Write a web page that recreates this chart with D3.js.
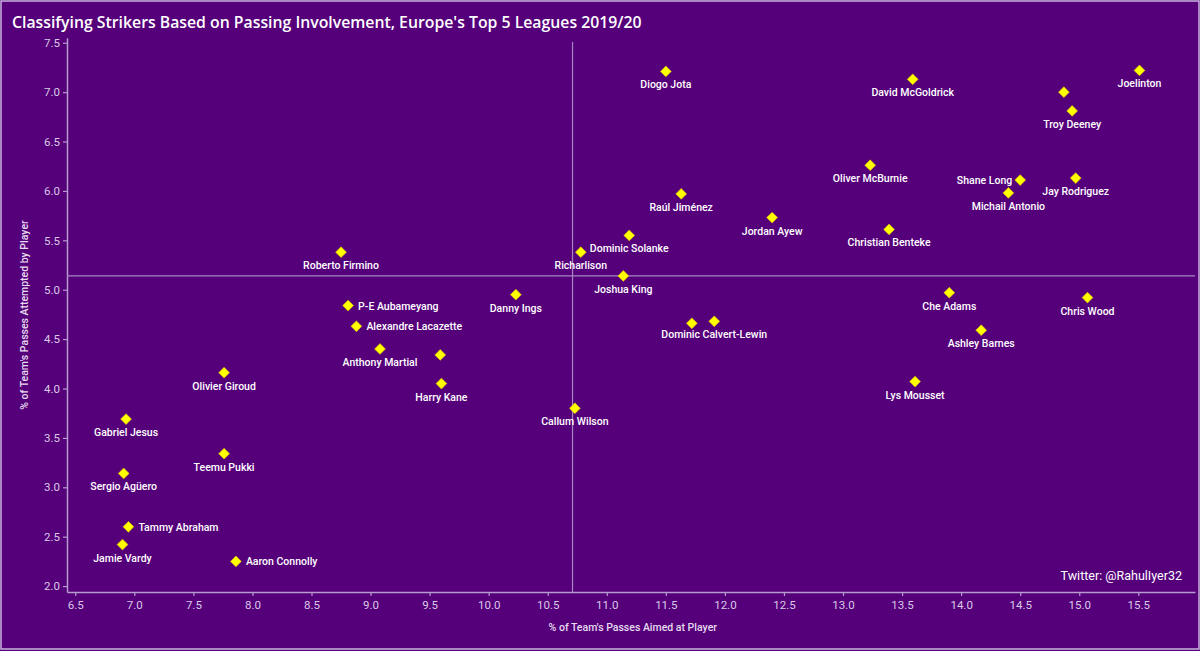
<!DOCTYPE html>
<html><head><meta charset="utf-8">
<script src="https://cdn.jsdelivr.net/npm/d3@7"></script>
<style>
html,body{margin:0;padding:0;background:#55007a;}
svg{display:block;}
</style></head>
<body>
<svg id="chart" width="1200" height="651"></svg>
<script>
const players = ["Diogo Jota","David McGoldrick","Joelinton","","Troy Deeney","Oliver McBurnie","Shane Long","Jay Rodriguez","Michail Antonio","Raúl Jiménez","Jordan Ayew","Christian Benteke","Dominic Solanke","Richarlison","Roberto Firmino","Joshua King","Danny Ings","P-E Aubameyang","Alexandre Lacazette","Anthony Martial","","Harry Kane","Callum Wilson","","Dominic Calvert-Lewin","Che Adams","Chris Wood","Ashley Barnes","Lys Mousset","Olivier Giroud","Gabriel Jesus","Teemu Pukki","Sergio Agüero","Tammy Abraham","Jamie Vardy","Aaron Connolly"];
const passesAimed = [11.50,13.59,15.51,14.87,14.94,13.23,14.50,14.97,14.40,11.63,12.40,13.39,11.19,10.78,8.75,11.14,10.23,8.81,8.88,9.08,9.59,9.60,10.73,11.72,11.91,13.90,15.07,14.17,13.61,7.76,6.93,7.76,6.91,6.95,6.90,7.86];
const passesAttempted = [7.21,7.13,7.22,7.00,6.81,6.26,6.11,6.13,5.98,5.97,5.73,5.61,5.55,5.38,5.38,5.14,4.95,4.84,4.63,4.40,4.34,4.05,3.80,4.66,4.68,4.97,4.92,4.59,4.07,4.16,3.69,3.34,3.14,2.60,2.42,2.25];
const labelSide = ["below","below","below","none","below","below","left","below","below","below","below","below","below","below","below","below","below","right","right","below","none","below","below","none","below","below","below","below","below","below","below","below","below","right","below","right"];
const xTicks = [6.5,7.0,7.5,8.0,8.5,9.0,9.5,10.0,10.5,11.0,11.5,12.0,12.5,13.0,13.5,14.0,14.5,15.0,15.5];
const yTicks = [2.0,2.5,3.0,3.5,4.0,4.5,5.0,5.5,6.0,6.5,7.0,7.5];
const refX = 10.71, refY = 5.14;

const svg = d3.select("#chart");
const W = 1200, H = 651;
const bg = "#55007a", axisCol = "#b79bd0", tickTxt = "#d9c9e8";

svg.append("rect").attr("x",0).attr("y",0).attr("width",W).attr("height",H).attr("fill",bg);
svg.append("rect").attr("x",1).attr("y",1).attr("width",W-2).attr("height",H-3)
  .attr("fill","none").attr("stroke","#c8b4dc").attr("stroke-width",1.5);

svg.append("text").attr("x",12).attr("y",28).text("Classifying Strikers Based on Passing Involvement, Europe's Top 5 Leagues 2019/20")
  .attr("fill","#ffffff").attr("font-family","'Open Sans', 'Noto Sans', sans-serif").attr("font-weight",600).attr("font-size",15.8);

const x = d3.scaleLinear().domain([6.43,15.98]).range([67,1195]);
const y = d3.scaleLinear().domain([1.94,7.55]).range([592,37.8]);

const font = "Roboto, 'Noto Sans', sans-serif";

// axes
const gx = svg.append("g").attr("transform","translate(0,592)")
  .call(d3.axisBottom(x).tickValues(xTicks).tickFormat(d3.format(".1f")).tickSize(4).tickSizeOuter(0));
const gy = svg.append("g").attr("transform","translate(67,0)")
  .call(d3.axisLeft(y).tickValues(yTicks).tickFormat(d3.format(".1f")).tickSize(4).tickSizeOuter(0));
[gx,gy].forEach(g=>{
  g.select(".domain").attr("stroke",axisCol).attr("stroke-width",1.5);
  g.selectAll(".tick line").attr("stroke",axisCol).attr("stroke-width",1.2);
  g.selectAll(".tick text").attr("fill",tickTxt).attr("font-family",font).attr("font-size",11.5);
});
gx.selectAll(".tick text").attr("dy","0.9em");

// reference lines
svg.append("line").attr("x1",x(refX)).attr("x2",x(refX)).attr("y1",42).attr("y2",592)
  .attr("stroke","#a886c4").attr("stroke-width",1.2);
svg.append("line").attr("x1",67).attr("x2",1195).attr("y1",y(refY)).attr("y2",y(refY))
  .attr("stroke","#a886c4").attr("stroke-width",1.2);

// axis titles
svg.append("text").attr("x",x(11.0)+26).attr("y",631).attr("text-anchor","middle")
  .text("% of Team's Passes Aimed at Player").attr("fill","#e6dcef").attr("font-family",font).attr("font-size",10.5).attr("font-weight",500);
svg.append("text").attr("transform","translate(28,315) rotate(-90)").attr("text-anchor","middle")
  .text("% of Team's Passes Attempted by Player").attr("fill","#e6dcef").attr("font-family",font).attr("font-size",10.5).attr("font-weight",500);

// points
const data = players.map((n,i)=>({name:n,x:passesAimed[i],y:passesAttempted[i],side:labelSide[i]}));
const diamond = d3.symbol().type(d3.symbolSquare).size(58);
svg.append("g").selectAll("path").data(data).join("path")
  .attr("d",diamond)
  .attr("transform",d=>`translate(${x(d.x)},${y(d.y)}) rotate(45)`)
  .attr("fill","#ffff00").attr("stroke","#e8c800").attr("stroke-width",0.6);

const lab = svg.append("g").attr("font-family",font).attr("font-size",10.5).attr("font-weight",500).attr("fill","#ffffff");
data.filter(d=>d.side!=="none").forEach(d=>{
  const t = lab.append("text").text(d.name);
  if(d.side==="below"){ t.attr("x",x(d.x)).attr("y",y(d.y)+17).attr("text-anchor","middle"); }
  else if(d.side==="right"){ t.attr("x",x(d.x)+10).attr("y",y(d.y)+4).attr("text-anchor","start"); }
  else { t.attr("x",x(d.x)-8).attr("y",y(d.y)+4).attr("text-anchor","end"); }
});

svg.append("text").attr("x",1182).attr("y",580).attr("text-anchor","end")
  .text("Twitter: @RahulIyer32").attr("fill","#ffffff").attr("font-family",font).attr("font-size",12.5);
</script>
</body></html>
